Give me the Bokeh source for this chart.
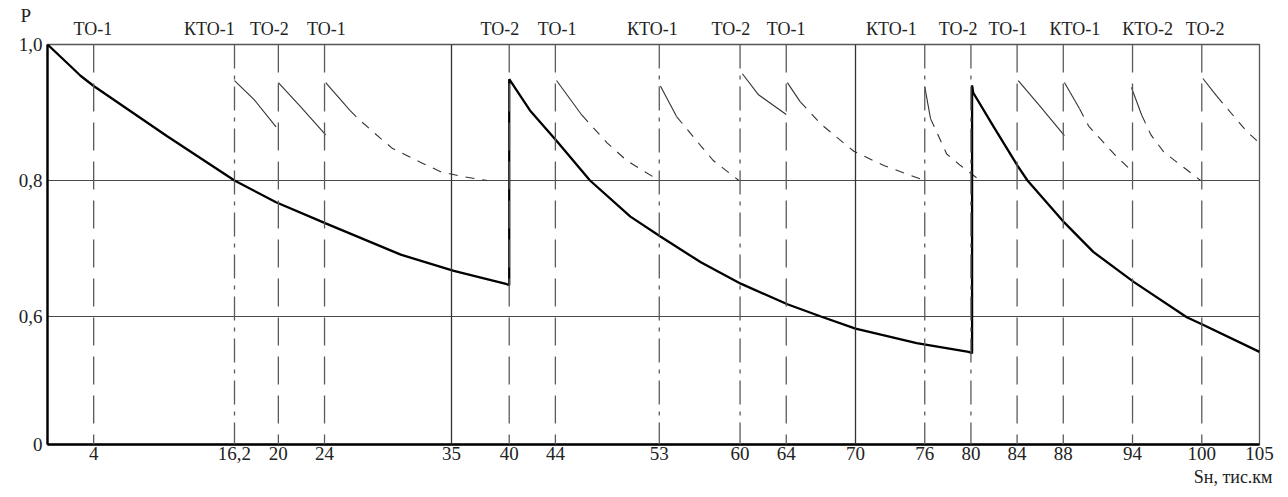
from bokeh.plotting import figure
from bokeh.models import (Range1d, FixedTicker, CustomJSTickFormatter, Span,
                          LinearAxis, Title)
from bokeh.embed import file_html
from bokeh.resources import INLINE

# ---------------- data ----------------
# main reliability curve P(S), with the restorations at 40 and 80 thousand km
main_x = [0, 2, 2.86, 4, 10.37, 16.2, 19.8, 24.1, 30.6, 35.2, 39.8, 40.0,
          40.0, 41.8, 44.04, 47.0, 50.5, 53.1, 56.6, 60.06, 64.1, 67.0, 70.0, 72.2, 75.3, 79.8, 80.1,
          80.1, 80.2, 82.0, 84.06, 84.9, 88.1, 90.6, 94.1, 98.7, 100.1, 105]
main_p = [1.0, 0.968, 0.954, 0.939, 0.865, 0.800, 0.768, 0.737, 0.691, 0.667, 0.6475, 0.646,
          0.949, 0.903, 0.8597, 0.800, 0.7469, 0.7177, 0.6797, 0.6483, 0.618, 0.600, 0.5822, 0.5732,
          0.561, 0.548, 0.546,
          0.940, 0.929, 0.878, 0.821, 0.800, 0.738, 0.695, 0.651, 0.599, 0.588, 0.548]

# thin curves after each maintenance action
thin_x = [
    [16.2, 17.9, 19.8],
    [20.0, 21.9, 24.1],
    [24.1, 26.2, 27.1, 28.85, 29.9, 32.3, 34.05, 35.9, 38.1],
    [44.1, 46.3, 48.5, 50.2, 53.0],
    [53.1, 54.5, 56.6, 57.7, 59.9],
    [60.2, 61.6, 64.0],
    [64.1, 65.2, 67.0, 69.85, 72.45, 76.0],
    [76.0, 76.5, 77.9, 79.1, 80.8],
    [84.1, 86.0, 88.1],
    [88.1, 89.4, 90.2, 92.4, 94.1],
    [93.9, 94.8, 95.6, 96.7, 99.9],
    [100.1, 101.3, 103.9, 105.0],
]
thin_p = [
    [0.947, 0.919, 0.879],
    [0.944, 0.909, 0.867],
    [0.944, 0.903, 0.888, 0.862, 0.847, 0.827, 0.813, 0.806, 0.800],
    [0.947, 0.896, 0.855, 0.829, 0.800],
    [0.939, 0.894, 0.851, 0.829, 0.800],
    [0.957, 0.926, 0.897],
    [0.944, 0.916, 0.883, 0.843, 0.822, 0.800],
    [0.938, 0.891, 0.839, 0.822, 0.800],
    [0.947, 0.909, 0.866],
    [0.944, 0.906, 0.880, 0.839, 0.811],
    [0.937, 0.896, 0.867, 0.842, 0.800],
    [0.950, 0.924, 0.872, 0.855],
]
thin_solid_n = [3, 3, 2, 2, 2, 3, 2, 2, 3, 2, 2, 2]

# maintenance positions (vertical lines) and their line kind
maint_x = [4, 16.2, 20, 24, 35, 40, 44, 53, 60, 64, 70, 76, 80, 84, 88, 94, 100]
maint_kind = ["dash", "dashdot", "dash", "dash", "solid", "dash", "dash", "dashdot",
              "dashdot", "dash", "solid", "dashdot", "dashdot", "dash", "dash", "dash", "dash"]

x_ticks = [4, 16.2, 20, 24, 35, 40, 44, 53, 60, 64, 70, 76, 80, 84, 88, 94, 100, 105]
y_grid = [0.6, 0.8]

top_labels = ["ТО-1", "КТО-1", "ТО-2", "ТО-1", "ТО-2", "ТО-1", "КТО-1", "ТО-2",
              "ТО-1", "КТО-1", "ТО-2", "ТО-1", "КТО-1", "КТО-2", "ТО-2"]
top_label_x = [3.94, 14.03, 19.23, 24.17, 39.2, 44.14, 52.4, 59.2, 64.0, 73.1,
               78.9, 83.2, 89.0, 95.3, 100.3]

y_title = "P"
x_title = "Sн, тис.км"

# ---------------- styles ----------------
FONT = "Liberation Serif"
TXT = "#222222"
Y0 = 0.4118
dash_style = {"dash": "28 11", "dashdot": "24 7 4 7", "solid": "solid"}
color_style = {"dash": "#5a5a5a", "dashdot": "#5a5a5a", "solid": "#333333"}

p = figure(width=1288, height=497, x_range=Range1d(0, 105), y_range=Range1d(Y0, 1.0),
           output_backend="svg", toolbar_location=None,
           min_border_left=47, min_border_right=29, min_border_top=44, min_border_bottom=53)

p.outline_line_color = "#555555"
p.outline_line_width = 1.3
p.background_fill_color = "white"
p.border_fill_color = "white"

p.xgrid.grid_line_color = None
p.ygrid.ticker = FixedTicker(ticks=y_grid)
p.ygrid.grid_line_color = "#4a4a4a"
p.ygrid.grid_line_width = 1.2

xa = p.below[0]
ya = p.left[0]

xa.ticker = FixedTicker(ticks=x_ticks)
xa.formatter = CustomJSTickFormatter(code="return String(tick).replace('.', ',');")
ya.ticker = FixedTicker(ticks=[Y0, 0.6, 0.8, 1.0])
ya.formatter = CustomJSTickFormatter(
    code="return tick < 0.5 ? '0' : tick.toFixed(1).replace('.', ',');")

top_axis = LinearAxis(
    ticker=FixedTicker(ticks=top_label_x),
    formatter=CustomJSTickFormatter(
        args=dict(xs=top_label_x, labels=top_labels),
        code="const i = xs.indexOf(tick); return i >= 0 ? labels[i] : '';"))
p.add_layout(top_axis, "above")

for ax in (xa, ya, top_axis):
    ax.axis_line_color = "black"
    ax.axis_line_width = 2.4
    ax.major_tick_line_color = None
    ax.minor_tick_line_color = None
    ax.major_tick_out = 0
    ax.major_tick_in = 0
    ax.minor_tick_out = 0
    ax.minor_tick_in = 0
    ax.major_label_text_font = FONT
    ax.major_label_text_font_size = "19px"
    ax.major_label_text_color = TXT
top_axis.axis_line_color = None
top_axis.major_label_text_font_size = "18px"
top_axis.major_label_standoff = 6
xa.major_label_standoff = 2
ya.major_label_standoff = 5

# axis titles
p.title.text = y_title
p.title.align = "left"
p.title.offset = -27
p.title.standoff = -20
p.title.text_font = FONT
p.title.text_font_size = "19px"
p.title.text_font_style = "normal"
p.title.text_color = TXT

p.add_layout(Title(text=x_title, align="right", offset=-13, standoff=4, text_font=FONT,
                   text_font_size="18px", text_font_style="normal", text_color=TXT), "below")

# vertical maintenance lines
for xv, kind in zip(maint_x, maint_kind):
    p.add_layout(Span(location=xv, dimension="height", line_color=color_style[kind],
                      line_width=1.3, line_dash=dash_style[kind]))

# thin curves: solid start, dashed continuation
for xs, ps, n in zip(thin_x, thin_p, thin_solid_n):
    p.line(xs[:n], ps[:n], line_color="#333333", line_width=1.1)
    if n < len(xs):
        p.line(xs[n - 1:], ps[n - 1:], line_color="#333333", line_width=1.1, line_dash="9 8")

# main curve
p.line(main_x, main_p, line_color="black", line_width=2.3)

open("out.html", "w").write(file_html(p, INLINE))
